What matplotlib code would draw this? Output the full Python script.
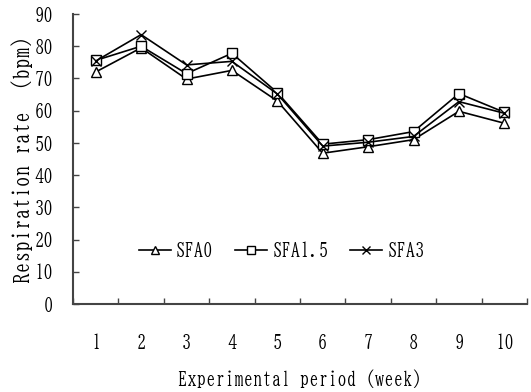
import numpy as np
import matplotlib
matplotlib.use('Agg')
import matplotlib.pyplot as plt

# weeks of the trial
weeks = ['1', '2', '3', '4', '5', '6', '7', '8', '9', '10']

# respiration rate (bpm) per group
sfa0 = [72.0, 79.5, 69.8, 72.5, 63.0, 46.8, 48.8, 51.0, 59.8, 56.1]
sfa15 = [75.6, 80.0, 71.5, 77.8, 65.6, 49.6, 51.0, 53.5, 65.3, 59.5]
sfa3 = [75.4, 83.6, 74.2, 75.3, 65.2, 49.0, 50.2, 52.0, 62.8, 59.2]

plt.rcParams['font.family'] = ['BIZ UDMincho', 'DejaVu Serif']

f = plt.figure(figsize=(5.31, 3.92), dpi=100)
ax = f.add_axes([0.1375, 0.2245, 0.855, 0.7398])

x = np.arange(1, len(weeks) + 1)
ax.plot(x, sfa0, color='black', lw=1.2, marker='^', ms=7, mfc='white', mec='black', mew=1.0, label='SFA0')
ax.plot(x, sfa15, color='black', lw=1.2, marker='s', ms=7, mfc='white', mec='black', mew=1.0, label='SFA1.5')
ax.plot(x, sfa3, color='black', lw=1.2, marker='x', ms=6.5, mec='black', mew=1.0, label='SFA3')

ax.set_xlim(0.5, len(weeks) + 0.5)
ax.set_ylim(0, 90)
ax.set_yticks(range(0, 91, 10))

# tick marks between weeks, week labels in the middle
ax.set_xticks(np.arange(0.5, len(weeks) + 1, 1.0))
ax.set_xticklabels([])
ax.set_xticks(x, minor=True)
ax.set_xticklabels(weeks, minor=True)
ax.tick_params(axis='x', which='major', direction='in', length=4, width=1, color='#444444')
ax.tick_params(axis='x', which='minor', length=0, pad=21, labelsize=13.5)
ax.tick_params(axis='y', direction='in', length=4, width=1, color='#444444', pad=14, labelsize=13.5)

for s in ['top', 'right']:
    ax.spines[s].set_visible(False)
for s in ['left', 'bottom']:
    ax.spines[s].set_linewidth(1.5)
    ax.spines[s].set_color('#444444')

ax.set_xlabel('Experimental period (week)', fontsize=13.5, labelpad=14)
ax.set_ylabel('Respiration rate  (bpm)', fontsize=15.5, labelpad=1)

ax.legend(loc='center', bbox_to_anchor=(0.46, 0.186), ncol=3, frameon=False, fontsize=13.5,
          handlelength=1.7, handletextpad=0.27, columnspacing=1.17, borderpad=0, markerscale=0.8)

f.savefig('out.png', dpi=100)
